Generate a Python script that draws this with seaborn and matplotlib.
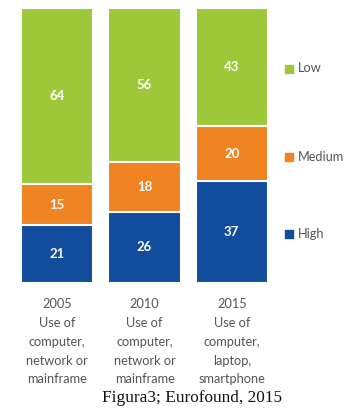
import matplotlib
matplotlib.use("Agg")
import matplotlib.pyplot as plt
import seaborn as sns
import pandas as pd
import numpy as np

# Share of workers by digital skill level, per survey year
years = ["2005", "2010", "2015"]
devices = ["Use of\ncomputer,\nnetwork or\nmainframe",
           "Use of\ncomputer,\nnetwork or\nmainframe",
           "Use of\ncomputer,\nlaptop,\nsmartphone"]
high = [21, 26, 37]
medium = [15, 18, 20]
low = [64, 56, 43]

levels = ["High", "Medium", "Low"]
colors = {"Low": "#9cc83a", "Medium": "#f08423", "High": "#124c9d"}

sns.set_theme(style="white")
plt.rcParams["font.family"] = ["Lato", "DejaVu Sans"]

categories = [f"{y}\n{d}" for y, d in zip(years, devices)]
df = pd.DataFrame({"cat": categories, "High": high, "Medium": medium, "Low": low})
df["top_medium"] = df["High"] + df["Medium"]
df["top_low"] = df["top_medium"] + df["Low"]

fig = plt.figure(figsize=(3.47, 4.08), dpi=100)
ax = fig.add_axes([21 / 347, 125 / 408, 247 / 347, 275 / 408])

# Stacked bars: draw cumulative totals from the tallest down
bw = 0.83
for col, lvl in [("top_low", "Low"), ("top_medium", "Medium"), ("High", "High")]:
    sns.barplot(data=df, x="cat", y=col, color=colors[lvl], width=bw,
                edgecolor="white", linewidth=1.5, ax=ax, saturation=1)

ax.set_xlim(-0.415, 2.415)
ax.set_ylim(0, 100)
ax.set_xlabel("")
ax.set_ylabel("")
ax.set_yticks([])
ax.set_xticks([])
sns.despine(ax=ax, left=True, bottom=True)

# Segment value labels
for i in range(len(years)):
    bottoms = [0, high[i], high[i] + medium[i]]
    vals = [high[i], medium[i], low[i]]
    for b, v in zip(bottoms, vals):
        ax.text(i, b + v / 2, str(v), ha="center", va="center",
                color="white", fontsize=9.5, fontweight="bold")

# Category labels under each bar
for i, c in enumerate(categories):
    ax.text(i, -5.5, c, ha="center", va="top", color="#555555",
            fontsize=9.2, linespacing=1.68, transform=ax.transData)

# Legend aligned with segments of the last bar
last = len(years) - 1
mids = {"High": high[last] / 2,
        "Medium": high[last] + medium[last] / 2,
        "Low": high[last] + medium[last] + low[last] / 2}
for lvl in ["Low", "Medium", "High"]:
    ax.scatter([2.65], [mids[lvl] - (1.2 if lvl == "Medium" else 0.5)],
               marker="s", s=30, color=colors[lvl], clip_on=False)
    ax.text(2.76, mids[lvl] - (1.2 if lvl == "Medium" else 0.5), lvl,
            ha="left", va="center", color="#555555", fontsize=9.2)

fig.text(192 / 347, 1 - 398 / 408, "Figura3; Eurofound, 2015", ha="center",
         va="center", fontsize=12.4, family="Liberation Serif", color="#111111")

fig.savefig("out.png", dpi=100, facecolor="white")
